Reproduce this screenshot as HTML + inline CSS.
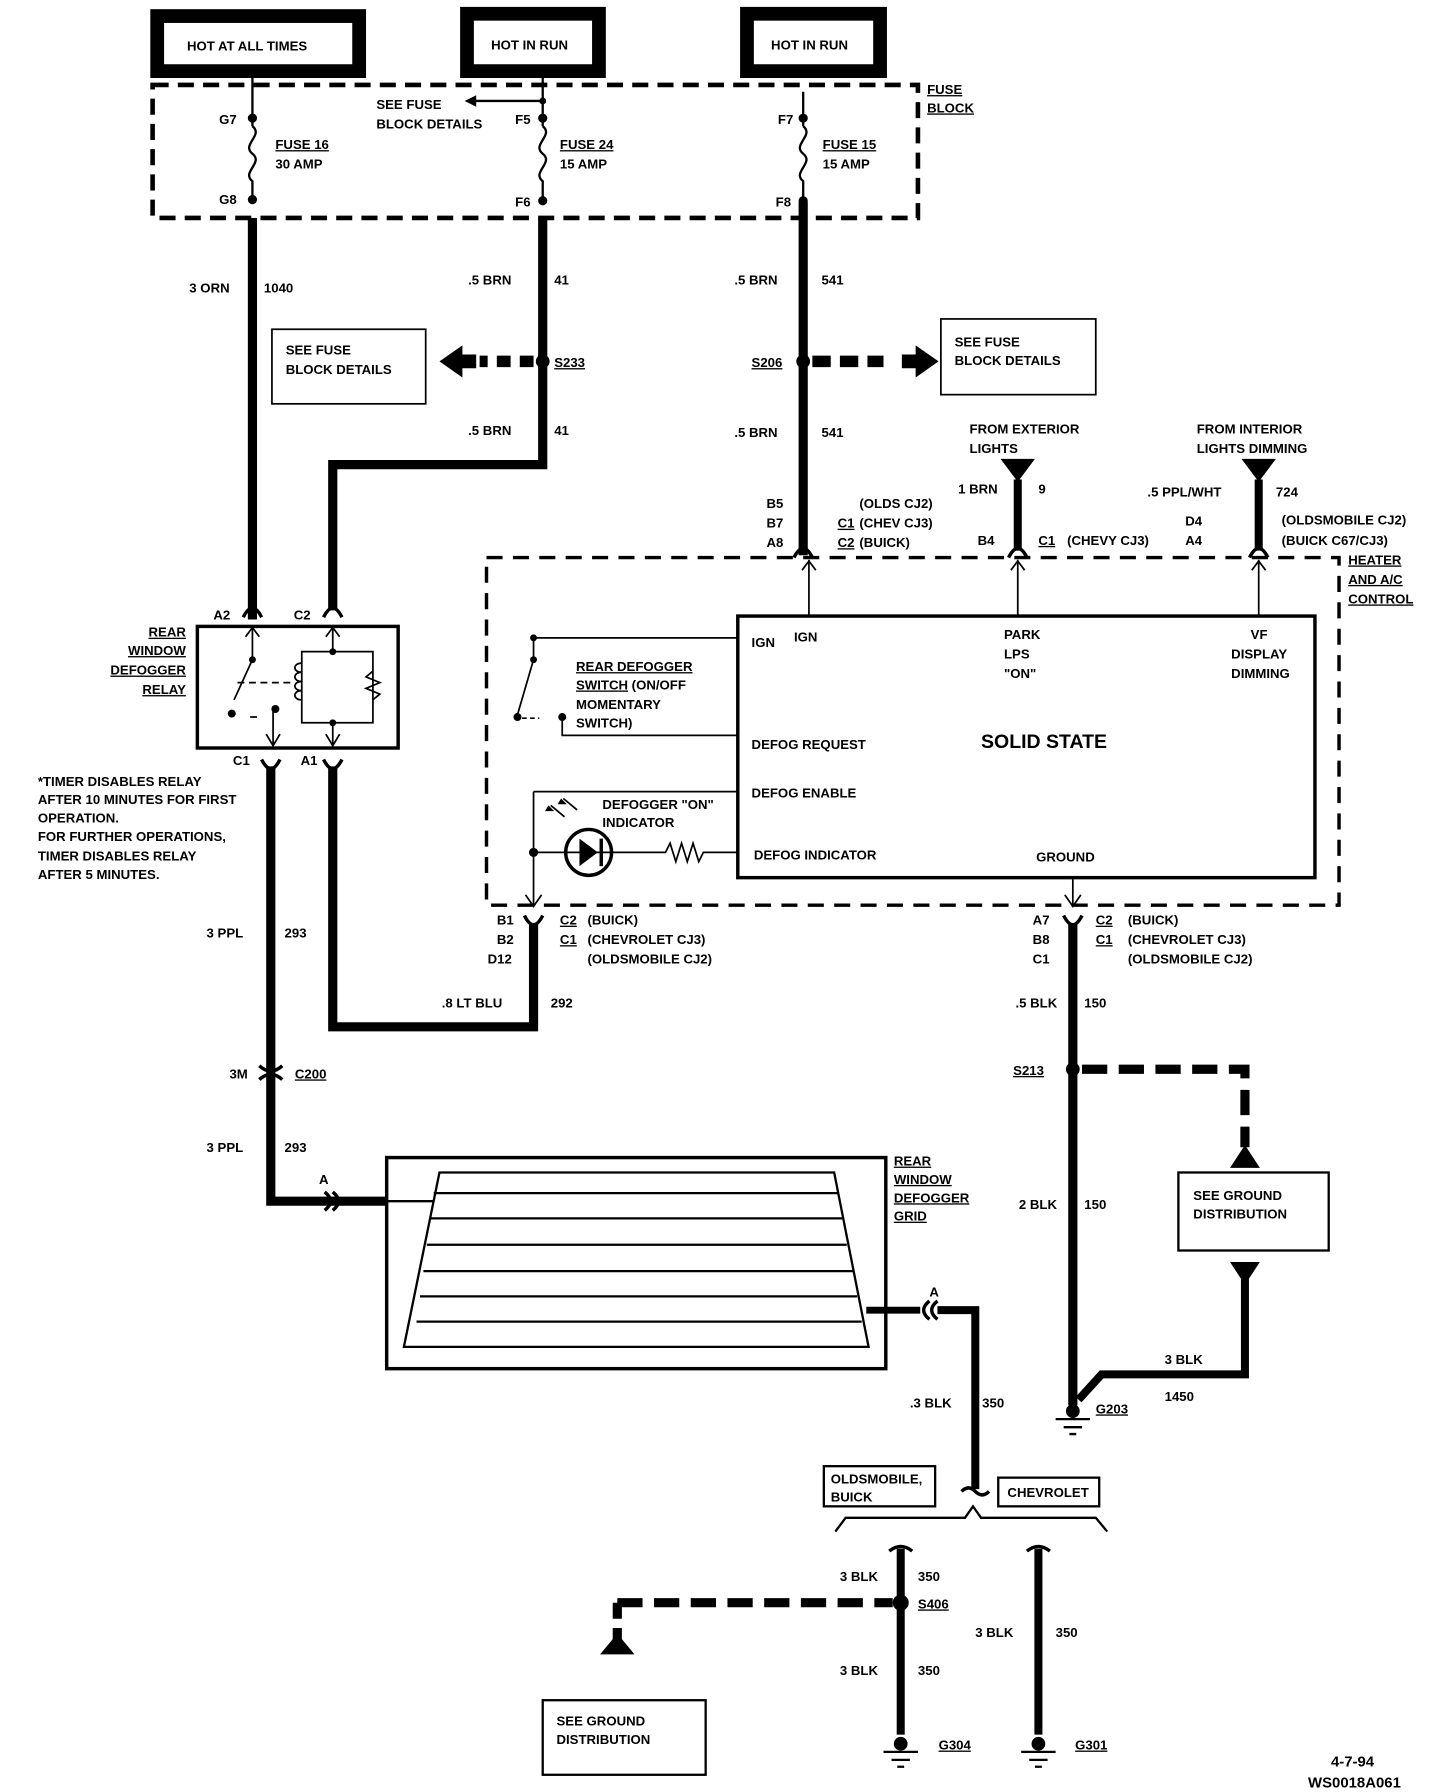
<!DOCTYPE html>
<html><head><meta charset="utf-8"><style>
html,body{margin:0;padding:0;background:#fff}
svg{display:block}
text{font-family:"Liberation Sans",sans-serif;font-weight:bold;font-size:11.5px;fill:#000}
</style></head><body>
<svg width="1440" height="1792" viewBox="0 0 1255 1562" preserveAspectRatio="none" xmlns="http://www.w3.org/2000/svg">
<g fill="none" stroke="#000">
<rect x="137" y="14" width="176" height="48" stroke-width="12"/>
<rect x="407" y="12" width="115" height="50" stroke-width="12"/>
<rect x="651" y="12" width="116" height="50" stroke-width="12"/>
<rect x="133" y="74" width="667" height="116" stroke-width="4" stroke-dasharray="14,8"/>
<path d="M220 68V110 M220 110c10 8 -10 16 0 24c10 8 -10 16 0 24V172" stroke-width="2"/>
<path d="M220 190V540" stroke-width="8"/>
<path d="M473 68V110 M473 110c10 8 -10 16 0 24c10 8 -10 16 0 24V172" stroke-width="2"/>
<path d="M473 88H412" stroke-width="2"/>
<path d="M473 190V405H290V532" stroke-width="8"/>
<path d="M700 80V110 M700 110c10 8 -10 16 0 24c10 8 -10 16 0 24V172" stroke-width="2"/>
<path d="M700 176V484" stroke-width="8"/>
<path d="M465 315H418" stroke-width="10" stroke-dasharray="12,8"/>
<path d="M708 315H770" stroke-width="10" stroke-dasharray="16,8"/>
<rect x="237" y="287" width="134" height="65" stroke-width="1.5"/>
<rect x="820" y="278" width="135" height="66" stroke-width="1.5"/>
<path d="M887 418V480 M1097 418V480" stroke-width="7"/>
<path d="M692 486q8-16 16 0 M879 486q8-16 16 0 M1089 486q8-16 16 0" stroke-width="3"/>
<path d="M705 488V537 M887 488V537 M1097 488V537" stroke-width="1.5"/>
<path d="M699 497l6-8 6 8 M881 497l6-8 6 8 M1091 497l6-8 6 8" stroke-width="1.5"/>
<rect x="424" y="486" width="743" height="303" stroke-width="3" stroke-dasharray="14,9"/>
<rect x="643" y="537" width="503" height="228" stroke-width="3"/>
<path d="M465 556H643 M465 556V575 M465 575L451 623 M490 625V641H643" stroke-width="1.5"/>
<path d="M455 626H470" stroke-width="1.5" stroke-dasharray="4,3"/>
<path d="M465 690H643 M465 690V790 M465 743H580 l4-8 5 16 5-16 5 16 5-16 5 16 4-8 H643" stroke-width="1.5"/>
<circle cx="513" cy="743" r="20" stroke-width="3"/>
<path d="M524 731V755" stroke-width="3"/>
<path d="M492 712l-12-10 M503 706l-12-10" stroke-width="1.5"/>
<path d="M458 780l7 10 7-10" stroke-width="1.5"/>
<path d="M457 798q8 16 16 0 M927 798q8 16 16 0" stroke-width="3"/>
<path d="M928 780l7 10 7-10 M935 765V790" stroke-width="1.5"/>
<path d="M465 806V895H290V668" stroke-width="8"/>
<rect x="172" y="546" width="175" height="106" stroke-width="3"/>
<path d="M212 538q8-16 16 0 M282 538q8-16 16 0" stroke-width="3"/>
<path d="M228 662q8 16 16 0 M282 662q8 16 16 0" stroke-width="3"/>
<path d="M220 546V575L204 610 M290 546V568 M263 568H325V630H263Z" stroke-width="1.5"/>
<path d="M214 555l6-8 6 8 M284 555l6-8 6 8" stroke-width="1.5"/>
<path d="M263 578c-8 0-8 8 0 8c-8 0-8 8 0 8c-8 0-8 8 0 8c-8 0-8 8 0 8 M325 585l-6 5 12 5-12 5 12 5-6 5" stroke-width="1.5"/>
<path d="M207 595H255 M218 625H228" stroke-width="1.5" stroke-dasharray="6,4"/>
<path d="M238 620V650 M232 640l6 10 6-10 M290 630V650 M284 640l6 10 6-10" stroke-width="1.5"/>
<path d="M236 668V1047H337" stroke-width="8"/>
<path d="M226 929q10 9 20 0 M226 941q10-9 20 0" stroke-width="3"/>
<path d="M283 1039q10 8 0 16 M290 1039q10 8 0 16" stroke-width="3"/>
<rect x="337" y="1009" width="435" height="184" stroke-width="3"/>
<path d="M383 1022H727L757 1174H352Z" stroke-width="2"/>
<path d="M337 1047H378 M378 1040H731 M375 1062H734 M372 1085H738 M369 1108H743 M366 1130H747 M363 1152H751" stroke-width="2"/>
<path d="M755 1142H802" stroke-width="6"/>
<path d="M810 1134q-10 8 0 16 M817 1134q-10 8 0 16" stroke-width="3"/>
<path d="M817 1142H850V1298" stroke-width="7"/>
<path d="M838 1300q6-6 12 0q6 6 12 0" stroke-width="3"/>
<rect x="718" y="1278" width="97" height="35" stroke-width="2"/>
<rect x="870" y="1288" width="88" height="25" stroke-width="2"/>
<path d="M728 1335L737 1323H841L848 1313L855 1323H955L965 1335" stroke-width="2"/>
<path d="M775 1352q10-8 20 0 M895 1352q10-8 20 0" stroke-width="3"/>
<path d="M785 1350V1512 M905 1350V1512" stroke-width="7"/>
<path d="M538 1397H778" stroke-width="8" stroke-dasharray="22,10"/>
<path d="M538 1397V1432" stroke-width="8" stroke-dasharray="14,8"/>
<rect x="473" y="1482" width="142" height="65" stroke-width="2"/>
<path d="M770 1527H800 M777 1534H793 M782 1540H788 M890 1527H920 M897 1534H913 M902 1540H908 M920 1237H950 M927 1244H943 M932 1250H938" stroke-width="2"/>
<path d="M935 806V1225" stroke-width="8"/>
<path d="M943 932H1085V1000" stroke-width="8" stroke-dasharray="22,10"/>
<rect x="1027" y="1022" width="131" height="68" stroke-width="2"/>
<path d="M1085 1115V1198H960L940 1220" stroke-width="7"/>
</g>
<g fill="#000">
<circle cx="220" cy="103" r="4"/><circle cx="220" cy="174" r="4"/>
<circle cx="473" cy="88" r="3"/><circle cx="473" cy="103" r="4"/><circle cx="473" cy="175" r="4"/>
<circle cx="700" cy="103" r="4"/><circle cx="700" cy="175" r="4"/>
<path d="M405 88l10-5v10z"/>
<circle cx="473" cy="315" r="6"/><circle cx="700" cy="315" r="6"/>
<path d="M383 315l20-14v8h12v12h-12v8z"/>
<path d="M818 315l-20-14v8h-12v12h12v8z"/>
<path d="M872 400h30l-15 20z M1082 400h30l-15 20z"/>
<circle cx="465" cy="556" r="3"/><circle cx="465" cy="575" r="3"/><circle cx="451" cy="625" r="3.5"/><circle cx="490" cy="625" r="3.5"/>
<circle cx="465" cy="743" r="4"/>
<path d="M505 731l16 12-16 12z"/>
<path d="M478 702l5 5-8 0z M489 696l5 5-8 0z"/>
<circle cx="220" cy="575" r="3"/><circle cx="202" cy="622" r="3.5"/><circle cx="240" cy="618" r="3.5"/><circle cx="290" cy="568" r="3"/><circle cx="290" cy="630" r="3"/>
<circle cx="935" cy="932" r="6"/><circle cx="785" cy="1397" r="7"/>
<path d="M1072 1018h26l-13-20z M1072 1100h26l-13 20z M523 1442h30l-15-18z"/>
<circle cx="935" cy="1230" r="6"/><circle cx="785" cy="1520" r="6"/><circle cx="905" cy="1520" r="6"/>
</g>
<g>
<text x="163" y="44">HOT AT ALL TIMES</text>
<text x="428" y="43">HOT IN RUN</text>
<text x="672" y="43">HOT IN RUN</text>
<text x="808" y="82" text-decoration="underline">FUSE</text>
<text x="808" y="98" text-decoration="underline">BLOCK</text>
<text x="191" y="108">G7</text><text x="191" y="178">G8</text>
<text x="449" y="108">F5</text><text x="449" y="180">F6</text>
<text x="678" y="108">F7</text><text x="676" y="180">F8</text>
<text x="240" y="130" text-decoration="underline">FUSE 16</text><text x="240" y="147">30 AMP</text>
<text x="488" y="130" text-decoration="underline">FUSE 24</text><text x="488" y="147">15 AMP</text>
<text x="717" y="130" text-decoration="underline">FUSE 15</text><text x="717" y="147">15 AMP</text>
<text x="328" y="95">SEE FUSE</text><text x="328" y="112">BLOCK DETAILS</text>
<text x="165" y="255">3 ORN</text><text x="230" y="255">1040</text>
<text x="408" y="248">.5 BRN</text><text x="483" y="248">41</text>
<text x="640" y="248">.5 BRN</text><text x="716" y="248">541</text>
<text x="249" y="309">SEE FUSE</text><text x="249" y="326">BLOCK DETAILS</text>
<text x="832" y="302">SEE FUSE</text><text x="832" y="318">BLOCK DETAILS</text>
<text x="483" y="320" text-decoration="underline">S233</text>
<text x="655" y="320" text-decoration="underline">S206</text>
<text x="408" y="379">.5 BRN</text><text x="483" y="379">41</text>
<text x="640" y="381">.5 BRN</text><text x="716" y="381">541</text>
<text x="845" y="378">FROM EXTERIOR</text><text x="845" y="395">LIGHTS</text>
<text x="1043" y="378">FROM INTERIOR</text><text x="1043" y="395">LIGHTS DIMMING</text>
<text x="835" y="430">1 BRN</text><text x="905" y="430">9</text>
<text x="1000" y="433">.5 PPL/WHT</text><text x="1112" y="433">724</text>
<text x="668" y="443">B5</text><text x="668" y="460">B7</text><text x="668" y="477">A8</text>
<text x="730" y="460" text-decoration="underline">C1</text><text x="730" y="477" text-decoration="underline">C2</text>
<text x="749" y="443">(OLDS CJ2)</text><text x="749" y="460">(CHEV CJ3)</text><text x="749" y="477">(BUICK)</text>
<text x="852" y="475">B4</text><text x="905" y="475" text-decoration="underline">C1</text><text x="930" y="475">(CHEVY CJ3)</text>
<text x="1033" y="458">D4</text><text x="1033" y="475">A4</text>
<text x="1117" y="457">(OLDSMOBILE CJ2)</text><text x="1117" y="475">(BUICK C67/CJ3)</text>
<text x="1175" y="492" text-decoration="underline">HEATER</text><text x="1175" y="509" text-decoration="underline">AND A/C</text><text x="1175" y="526" text-decoration="underline">CONTROL</text>
<text x="655" y="564">IGN</text><text x="692" y="559">IGN</text>
<text x="875" y="557">PARK</text><text x="875" y="574">LPS</text><text x="875" y="591">"ON"</text>
<text x="1090" y="557">VF</text><text x="1073" y="574">DISPLAY</text><text x="1073" y="591">DIMMING</text>
<text x="855" y="652" style="font-size:17px">SOLID STATE</text>
<text x="655" y="653">DEFOG REQUEST</text>
<text x="655" y="695">DEFOG ENABLE</text>
<text x="657" y="749">DEFOG INDICATOR</text>
<text x="903" y="751">GROUND</text>
<text x="502" y="585" text-decoration="underline">REAR DEFOGGER</text>
<text x="502" y="601"><tspan text-decoration="underline">SWITCH</tspan> (ON/OFF</text>
<text x="502" y="618">MOMENTARY</text><text x="502" y="634">SWITCH)</text>
<text x="525" y="705">DEFOGGER "ON"</text><text x="525" y="721">INDICATOR</text>
<text x="162" y="555" text-anchor="end" text-decoration="underline">REAR</text>
<text x="162" y="571" text-anchor="end" text-decoration="underline">WINDOW</text>
<text x="162" y="588" text-anchor="end" text-decoration="underline">DEFOGGER</text>
<text x="162" y="605" text-anchor="end" text-decoration="underline">RELAY</text>
<text x="186" y="540">A2</text><text x="256" y="540">C2</text>
<text x="203" y="667">C1</text><text x="262" y="667">A1</text>
<g style="font-size:11px"><text x="33" y="685">*TIMER DISABLES RELAY</text><text x="33" y="701">AFTER 10 MINUTES FOR FIRST</text><text x="33" y="717">OPERATION.</text><text x="33" y="733">FOR FURTHER OPERATIONS,</text><text x="33" y="750">TIMER DISABLES RELAY</text><text x="33" y="766">AFTER 5 MINUTES.</text></g>
<text x="433" y="806">B1</text><text x="433" y="823">B2</text><text x="425" y="840">D12</text>
<text x="488" y="806" text-decoration="underline">C2</text><text x="488" y="823" text-decoration="underline">C1</text>
<text x="512" y="806">(BUICK)</text><text x="512" y="823">(CHEVROLET CJ3)</text><text x="512" y="840">(OLDSMOBILE CJ2)</text>
<text x="900" y="806">A7</text><text x="900" y="823">B8</text><text x="900" y="840">C1</text>
<text x="955" y="806" text-decoration="underline">C2</text><text x="955" y="823" text-decoration="underline">C1</text>
<text x="983" y="806">(BUICK)</text><text x="983" y="823">(CHEVROLET CJ3)</text><text x="983" y="840">(OLDSMOBILE CJ2)</text>
<text x="180" y="817">3 PPL</text><text x="248" y="817">293</text>
<text x="385" y="878">.8 LT BLU</text><text x="480" y="878">292</text>
<text x="885" y="878">.5 BLK</text><text x="945" y="878">150</text>
<text x="883" y="937" text-decoration="underline">S213</text>
<text x="200" y="940">3M</text><text x="257" y="940" text-decoration="underline">C200</text>
<text x="180" y="1004">3 PPL</text><text x="248" y="1004">293</text>
<text x="278" y="1032">A</text><text x="810" y="1130">A</text>
<text x="779" y="1016" text-decoration="underline">REAR</text><text x="779" y="1032" text-decoration="underline">WINDOW</text><text x="779" y="1048" text-decoration="underline">DEFOGGER</text><text x="779" y="1064" text-decoration="underline">GRID</text>
<text x="1040" y="1046">SEE GROUND</text><text x="1040" y="1062">DISTRIBUTION</text>
<text x="888" y="1054">2 BLK</text><text x="945" y="1054">150</text>
<text x="1015" y="1189">3 BLK</text><text x="1015" y="1221">1450</text>
<text x="955" y="1232" text-decoration="underline">G203</text>
<text x="793" y="1227">.3 BLK</text><text x="856" y="1227">350</text>
<text x="724" y="1293">OLDSMOBILE,</text><text x="724" y="1309">BUICK</text>
<text x="878" y="1305">CHEVROLET</text>
<text x="732" y="1378">3 BLK</text><text x="800" y="1378">350</text>
<text x="800" y="1402" text-decoration="underline">S406</text>
<text x="850" y="1427">3 BLK</text><text x="920" y="1427">350</text>
<text x="732" y="1460">3 BLK</text><text x="800" y="1460">350</text>
<text x="485" y="1504">SEE GROUND</text><text x="485" y="1520">DISTRIBUTION</text>
<text x="818" y="1525" text-decoration="underline">G304</text><text x="937" y="1525" text-decoration="underline">G301</text>
<text x="1160" y="1540" style="font-size:13px">4-7-94</text>
<text x="1140" y="1558" style="font-size:13px">WS0018A061</text>
</g>
</svg>
</body></html>
